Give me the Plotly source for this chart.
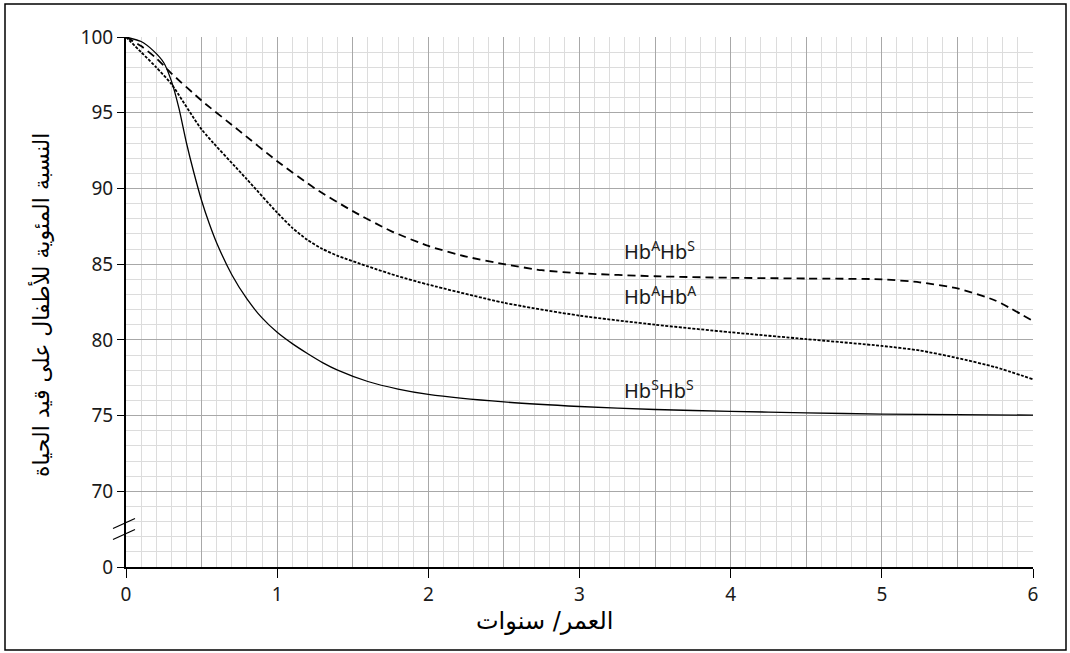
import plotly.graph_objects as go

# ---- data ----
t_ss = [0, 0.1, 0.18, 0.25, 0.3, 0.35, 0.4, 0.45, 0.5, 0.55, 0.6, 0.7, 0.8, 0.9, 1.0, 1.1, 1.2, 1.3, 1.4, 1.6, 1.8, 2.0, 2.5, 3.0, 3.5, 4.0, 4.5, 5.0, 5.5, 6.0]
hb_ss = [100, 99.7, 99.1, 98.3, 97.1, 95.3, 93.0, 91.0, 89.2, 87.7, 86.4, 84.3, 82.7, 81.45, 80.5, 79.75, 79.1, 78.5, 78.0, 77.25, 76.75, 76.4, 75.9, 75.6, 75.4, 75.28, 75.18, 75.1, 75.06, 75.03]

t_aa = [0, 0.1, 0.2, 0.3, 0.5, 0.8, 1.0, 1.1, 1.2, 1.3, 1.4, 1.6, 1.8, 2.0, 2.5, 3.0, 3.5, 4.0, 4.5, 5.0, 5.25, 5.5, 5.75, 6.0]
hb_aa = [100, 99.0, 98.0, 96.9, 93.9, 90.6, 88.4, 87.4, 86.6, 86.0, 85.55, 84.85, 84.2, 83.65, 82.45, 81.6, 81.0, 80.5, 80.05, 79.6, 79.3, 78.8, 78.2, 77.4]

t_as = [0, 0.1, 0.2, 0.3, 0.5, 0.75, 1.0, 1.25, 1.5, 1.75, 2.0, 2.25, 2.5, 2.75, 3.0, 3.5, 4.0, 4.5, 5.0, 5.25, 5.5, 5.75, 6.0]
hb_as = [100, 99.4, 98.6, 97.6, 95.8, 93.8, 91.8, 90.0, 88.5, 87.2, 86.2, 85.5, 85.0, 84.6, 84.4, 84.2, 84.1, 84.05, 84.0, 83.8, 83.4, 82.6, 81.25]

x_ticks = [0, 1, 2, 3, 4, 5, 6]
x_half = [0.5, 1.5, 2.5, 3.5, 4.5, 5.5]
y_ticks = [65, 70, 75, 80, 85, 90, 95, 100]
y_ticktext = ["0", "70", "75", "80", "85", "90", "95", "100"]

labels = ["Hb<sup>A</sup>Hb<sup>S</sup>", "Hb<sup>A</sup>Hb<sup>A</sup>", "Hb<sup>S</sup>Hb<sup>S</sup>"]
label_x = [3.28, 3.28, 3.28]
label_y = [85.9, 82.9, 76.7]

x_title = "العمر/ سنوات"
y_title = "النسبة المئوية للأطفال على قيد الحياة"

FONT = "Noto Sans, Open Sans, DejaVu Sans, sans-serif"
AR_FONT = "DejaVu Sans, sans-serif"
MAJOR = "#a8a8a8"
MINOR = "#dcdcdc"

fig = go.Figure()
fig.add_trace(go.Scatter(x=t_as, y=hb_as, mode="lines", line=dict(color="black", width=1.8, dash="8px,5px", shape="spline", smoothing=0.6), showlegend=False))
fig.add_trace(go.Scatter(x=t_aa, y=hb_aa, mode="lines", line=dict(color="black", width=1.8, dash="3px,1.5px", shape="spline", smoothing=0.6), showlegend=False))
fig.add_trace(go.Scatter(x=t_ss, y=hb_ss, mode="lines", line=dict(color="black", width=1.3, shape="spline", smoothing=0.6), showlegend=False))
# invisible trace to activate the overlay axis carrying the half-year grid lines
fig.add_trace(go.Scatter(x=[0, 6], y=[65, 65], xaxis="x2", mode="lines", line=dict(width=0), hoverinfo="skip", showlegend=False))

for txt, lx, ly in zip(labels, label_x, label_y):
    fig.add_annotation(x=lx, y=ly, text=txt, showarrow=False, xanchor="left", yanchor="middle",
                       font=dict(family=FONT, size=20, color="#1a1a1a"))

fig.add_annotation(x=(544 - 126) / 907, y=-0.102, xref="paper", yref="paper", text=x_title, showarrow=False,
                   xanchor="center", yanchor="middle", font=dict(family=AR_FONT, size=24, color="black"))
fig.add_annotation(x=(41 - 126) / 907, y=(567 - 305) / 530, xref="paper", yref="paper", text=y_title, showarrow=False,
                   textangle=-90, xanchor="center", yanchor="middle", font=dict(family=AR_FONT, size=22, color="black"))

# axis break marks
fig.add_shape(type="line", xref="paper", yref="paper", x0=(113 - 126) / 907, x1=(135 - 126) / 907,
              y0=(567 - 528.5) / 530, y1=(567 - 518.5) / 530, line=dict(color="black", width=1.3))
fig.add_shape(type="line", xref="paper", yref="paper", x0=(113 - 126) / 907, x1=(135 - 126) / 907,
              y0=(567 - 539.5) / 530, y1=(567 - 529.5) / 530, line=dict(color="black", width=1.3))
# outer frame
fig.add_shape(type="rect", xref="paper", yref="paper", x0=(5 - 126) / 907, x1=(1066 - 126) / 907,
              y0=(567 - 650) / 530, y1=(567 - 4) / 530, line=dict(color="black", width=1.5))

fig.update_layout(
    width=1070, height=653,
    margin=dict(l=126, r=37, t=37, b=86),
    plot_bgcolor="white", paper_bgcolor="white",
    font=dict(family=FONT, size=19, color="#1a1a1a"),
    xaxis=dict(range=[0, 6], tickvals=x_ticks, ticks="outside", ticklen=9, tickcolor="black", tickwidth=1,
               showline=True, linecolor="black", linewidth=2, showgrid=True, gridcolor=MAJOR, gridwidth=1,
               zeroline=False, minor=dict(dtick=0.1, showgrid=True, gridcolor=MINOR, gridwidth=1, ticks=""),
               tickfont=dict(family=FONT, size=19, color="#1a1a1a")),
    xaxis2=dict(range=[0, 6], overlaying="x", side="bottom", tickvals=x_half, showticklabels=False, ticks="",
                showgrid=True, gridcolor=MAJOR, gridwidth=1, showline=False, zeroline=False),
    yaxis=dict(range=[65, 100], tickvals=y_ticks, ticktext=y_ticktext, ticks="outside", ticklen=7, tickcolor="black",
               showline=True, linecolor="black", linewidth=2, showgrid=True, gridcolor=MAJOR, gridwidth=1,
               zeroline=False, minor=dict(dtick=1, showgrid=True, gridcolor=MINOR, gridwidth=1, ticks=""),
               tickfont=dict(family=FONT, size=19, color="#1a1a1a")),
)

fig.write_html("out.html")
